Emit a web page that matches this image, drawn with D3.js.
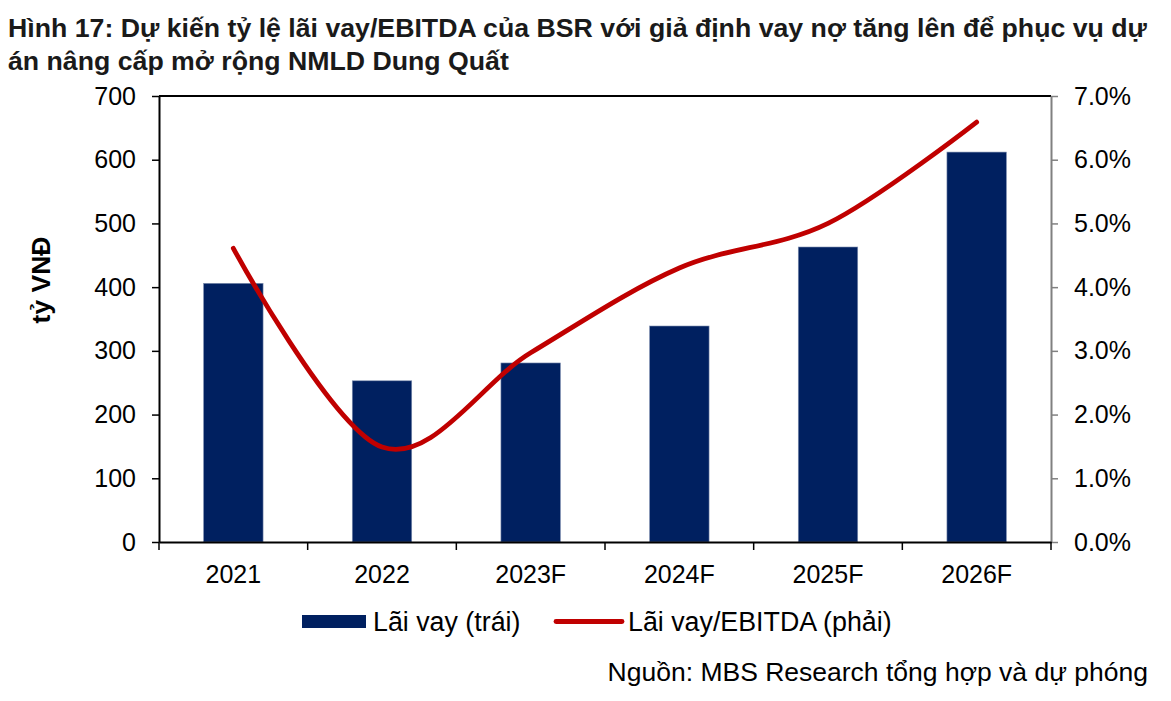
<!DOCTYPE html>
<html>
<head>
<meta charset="utf-8">
<script src="https://cdn.jsdelivr.net/npm/d3@7"></script>
<style>
  body { margin: 0; background: #fff; }
  svg { display: block; font-family: "Liberation Sans", Arial, sans-serif; }
</style>
</head>
<body>
<svg id="chart" width="1171" height="701"></svg>
<script>
const categories = ["2021", "2022", "2023F", "2024F", "2025F", "2026F"];
const interestValues = [406, 253, 281, 339, 463, 612];            // Lãi vay (tỷ VNĐ)
const ratioValues = [0.0461, 0.0149, 0.0297, 0.0430, 0.0500, 0.0659]; // Lãi vay/EBITDA
const leftTicks = [0, 100, 200, 300, 400, 500, 600, 700];
const rightTicks = [0, 0.01, 0.02, 0.03, 0.04, 0.05, 0.06, 0.07];
const titleLines = [
  "Hình 17: Dự kiến tỷ lệ lãi vay/EBITDA của BSR với giả định vay nợ tăng lên để phục vụ dự",
  "án nâng cấp mở rộng NMLD Dung Quất"
];
const legendLabels = ["Lãi vay (trái)", "Lãi vay/EBITDA (phải)"];
const yAxisTitle = "tỷ VNĐ";
const sourceText = "Nguồn: MBS Research tổng hợp và dự phóng";

const svg = d3.select("#chart");
const L = 159, R = 1051, T = 96, B = 542;
const barColor = "#002060", lineColor = "#C00000";
const FONT = "Liberation Sans, Arial, sans-serif";

const x = d3.scaleBand().domain(categories).range([L, R]).paddingInner(0).paddingOuter(0);
const yL = d3.scaleLinear().domain([0, 700]).range([B, T]);
const yR = d3.scaleLinear().domain([0, 0.07]).range([B, T]);

// Title
svg.append("g").selectAll("text").data(titleLines).join("text")
  .attr("x", 8).attr("y", (d, i) => 37 + i * 33)
  .attr("font-size", 26.7).attr("font-weight", "bold").attr("fill", "#1a1a1a")
  .text(d => d);

// Bars
const bw = x.bandwidth() * 0.4;
svg.append("g").selectAll("rect").data(categories).join("rect")
  .attr("x", d => x(d) + (x.bandwidth() - bw) / 2)
  .attr("y", (d, i) => yL(interestValues[i]))
  .attr("width", bw)
  .attr("height", (d, i) => B - yL(interestValues[i]))
  .attr("fill", barColor)
  .attr("stroke", "#7f8fb0").attr("stroke-width", 0.6);

// Top border
svg.append("line").attr("x1", L).attr("x2", R).attr("y1", T).attr("y2", T)
  .attr("stroke", "#000").attr("stroke-width", 2);

// Left axis
const axL = svg.append("g").attr("transform", `translate(${L},0)`)
  .call(d3.axisLeft(yL).tickValues(leftTicks).tickSize(7).tickPadding(16).tickSizeOuter(0));
axL.select(".domain").attr("stroke", "#000").attr("stroke-width", 2);
axL.selectAll(".tick line").attr("stroke", "#000").attr("stroke-width", 1.5);
axL.selectAll(".tick text").attr("font-size", 25).attr("fill", "#000").attr("font-family", FONT);

// Right axis
const axR = svg.append("g").attr("transform", `translate(${R},0)`)
  .call(d3.axisRight(yR).tickValues(rightTicks).tickFormat(d3.format(".1%")).tickSize(7).tickPadding(16).tickSizeOuter(0));
axR.select(".domain").attr("stroke", "#808080").attr("stroke-width", 2);
axR.selectAll(".tick line").attr("stroke", "#808080").attr("stroke-width", 1.5);
axR.selectAll(".tick text").attr("font-size", 25).attr("fill", "#000").attr("font-family", FONT);

// Bottom axis (labels at centers, ticks at boundaries)
const axB = svg.append("g").attr("transform", `translate(0,${B})`)
  .call(d3.axisBottom(x).tickSize(0).tickPadding(23).tickSizeOuter(0));
axB.select(".domain").attr("stroke", "#000").attr("stroke-width", 2);
axB.selectAll(".tick text").attr("font-size", 25).attr("fill", "#000").attr("font-family", FONT);
const boundaries = categories.map(c => x(c)).concat([x.range()[1]]);
svg.append("g").selectAll("line").data(boundaries).join("line")
  .attr("x1", d => d).attr("x2", d => d).attr("y1", B).attr("y2", B + 8)
  .attr("stroke", "#000").attr("stroke-width", 1.5);

// Line series
const line = d3.line()
  .x((d, i) => x(categories[i]) + x.bandwidth() / 2)
  .y(d => yR(d))
  .curve(d3.curveCatmullRom.alpha(0));
svg.append("path").datum(ratioValues)
  .attr("d", line).attr("fill", "none")
  .attr("stroke", lineColor).attr("stroke-width", 4.8).attr("stroke-linecap", "round");

// Y axis title
svg.append("text")
  .attr("transform", "translate(50,280) rotate(-90)")
  .attr("text-anchor", "middle").attr("font-size", 26.5).attr("font-weight", "bold")
  .text(yAxisTitle);

// Legend
const lg = svg.append("g");
lg.append("rect").attr("x", 302).attr("y", 615).attr("width", 64).attr("height", 13).attr("fill", barColor);
lg.append("text").attr("x", 373).attr("y", 631).attr("font-size", 26.8).text(legendLabels[0]);
lg.append("line").attr("x1", 556).attr("x2", 622).attr("y1", 621.5).attr("y2", 621.5)
  .attr("stroke", lineColor).attr("stroke-width", 4.8).attr("stroke-linecap", "round");
lg.append("text").attr("x", 628).attr("y", 631).attr("font-size", 26.8).text(legendLabels[1]);

// Source
svg.append("text").attr("x", 1148).attr("y", 681).attr("text-anchor", "end")
  .attr("font-size", 26.5).text(sourceText);
</script>
</body>
</html>
